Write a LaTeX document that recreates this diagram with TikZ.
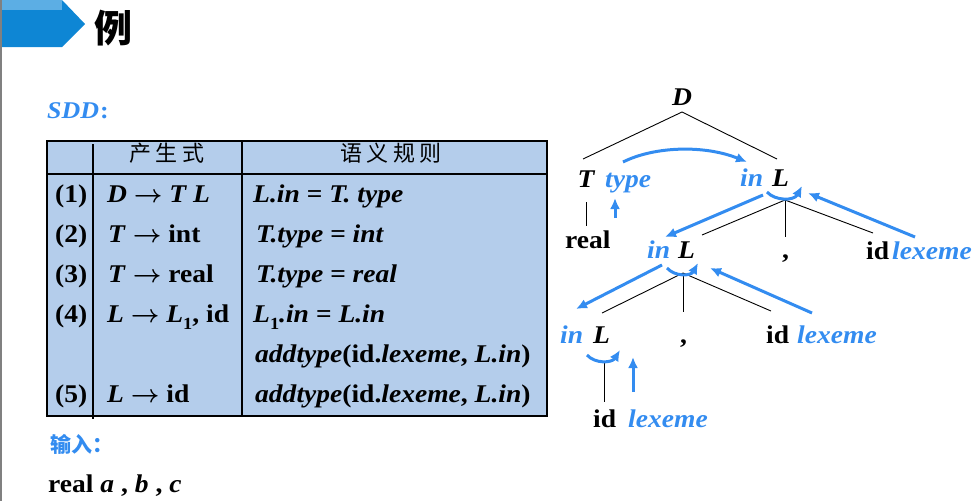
\documentclass[tikz,border=0pt]{standalone}
\usepackage{fontspec}
\setmainfont{Liberation Serif}[FakeStretch=1.08]
\newfontfamily\cjk{Noto Sans CJK SC}
\usetikzlibrary{arrows.meta}
\definecolor{bannerblue}{RGB}{14,134,212}
\definecolor{bannerlight}{RGB}{92,174,228}
\definecolor{accent}{RGB}{51,140,240}
\definecolor{tablefill}{RGB}{180,205,235}
\definecolor{edgegray}{RGB}{128,128,128}
\newcommand\fz{\fontsize{25.5}{30}\selectfont}
\newcommand\arr{\ensuremath{\boldsymbol{\rightarrow}}}
\usepackage{amsmath}
\begin{document}
\begin{tikzpicture}[x=1pt,y=-1pt,
  txt/.style={inner sep=0pt, anchor=base west, font=\fz\bfseries},
  ctxt/.style={inner sep=0pt, anchor=base, font=\fz\bfseries\itshape},
  btxt/.style={inner sep=0pt, anchor=base west, font=\fz\bfseries\itshape, text=accent},
  itxt/.style={inner sep=0pt, anchor=base west, font=\fz\bfseries\itshape},
  treeline/.style={draw=black, line width=0.9pt},
  flow/.style={draw=accent, line width=3pt, -{Latex[length=11pt,width=10pt]}},
  hdr/.style={inner sep=0pt, anchor=center, font=\cjk\fontsize{22}{24}\selectfont}
]
\useasboundingbox (0,0) rectangle (973,501);
% banner
\fill[edgegray] (0,0) rectangle (2,501);
\fill[bannerblue] (2,0) -- (62,0) -- (85,24) -- (62,47) -- (2,47) -- cycle;
\fill[bannerlight] (2,0) rectangle (62,10);
\node[inner sep=0pt, anchor=center, font=\cjk\bfseries\fontsize{38}{40}\selectfont] (title) at (113,28) {例};
% SDD label
\node[inner sep=0pt, anchor=base west, text=accent, font=\fontsize{24}{28}\selectfont\bfseries\itshape] (sdd) at (47,118) {SDD\hspace{1pt}{\upshape:}};
% table
\fill[tablefill] (47,141) rectangle (547,416);
\draw[line width=1.3pt] (47,141) rectangle (547,416);
\draw[line width=1.3pt] (47,174) -- (547,174);
\draw[line width=1.3pt] (93,144) -- (93,419);
\draw[line width=1.3pt] (242,141) -- (242,416);
\node[hdr] (h1) at (167,153) {产\hspace{5pt}生\hspace{5pt}式};
\node[hdr] (h2) at (391,153) {语\hspace{4.5pt}义\hspace{4.5pt}规\hspace{4.5pt}则};
% row numbers
\node[txt] (n1) at (55,202) {(1)};
\node[txt] (n2) at (55,242) {(2)};
\node[txt] (n3) at (55,282) {(3)};
\node[txt] (n4) at (55,322) {(4)};
\node[txt] (n5) at (55,402) {(5)};
% productions
\node[txt] (p1) at (107,202) {\textit{D} \arr\ \textit{T L}};
\node[txt] (p2) at (108,242) {\textit{T} \arr\ int};
\node[txt] (p3) at (108,282) {\textit{T} \arr\ real};
\node[txt] (p4) at (107,322) {\textit{L} \arr\ \textit{L}\raisebox{-0.28em}{\fontsize{17}{17}\selectfont 1}, id};
\node[txt] (p5) at (107,402) {\textit{L} \arr\ id};
% rules
\node[txt] (r1) at (253,202) {\textit{L.in = T. type}};
\node[txt] (r2) at (256,242) {\textit{T.type = int}};
\node[txt] (r3) at (256,282) {\textit{T.type = real}};
\node[txt] (r4) at (253,322) {\textit{L}\raisebox{-0.28em}{\fontsize{17}{17}\selectfont 1}\textit{.in = L.in}};
\node[txt] (r4b) at (255,362) {\textit{addtype}(id.\textit{lexeme}, \textit{L.in})};
\node[txt] (r5) at (255,402) {\textit{addtype}(id.\textit{lexeme}, \textit{L.in})};
% input
\node[inner sep=0pt, anchor=base west, text=accent, font=\cjk\bfseries\fontsize{21}{24}\selectfont] (inp) at (50,452) {输入：};
\node[txt] (inputline) at (48,492) {real \textit{a} , \textit{b} , \textit{c}};
% ---------------- tree ----------------
\node[ctxt] (D) at (682,105) {D};
\node[ctxt] (T) at (586,187) {T};
\node[btxt] (type) at (605,187) {type};
\node[btxt] (in1) at (740,186) {in};
\node[itxt] (L1) at (772,186) {L};
\node[txt] (real) at (565,248) {real};
\node[btxt] (in2) at (647,258) {in};
\node[itxt] (L2) at (678,258) {L};
\node[txt] (c2) at (782,258) {,};
\node[txt] (id2) at (866,259) {id};
\node[btxt] (lex2) at (892,259) {lexeme};
\node[btxt] (in3) at (560,343) {in};
\node[itxt] (L3) at (593,343) {L};
\node[txt] (c3) at (680,343) {,};
\node[txt] (id3) at (766,343) {id};
\node[btxt] (lex3) at (797,343) {lexeme};
\node[txt] (id4) at (593,427) {id};
\node[btxt] (lex4) at (628,427) {lexeme};
% tree coordinates
\coordinate (Dap) at (682,112);
\coordinate (Tt) at (583,159);
\coordinate (Lt) at (777,159);
\coordinate (Tb) at (586,202);
\coordinate (realt) at (586,226);
\coordinate (L1ap) at (785,200);
\coordinate (L2t) at (702,235);
\coordinate (c2t) at (785,237);
\coordinate (id2t) at (873,233);
\coordinate (L2ap) at (683,273);
\coordinate (L3t) at (602,313);
\coordinate (c3t) at (683,312);
\coordinate (id3t) at (771,311);
\coordinate (L3b) at (604,363);
\coordinate (id4t) at (604,402);
\draw[treeline] (Dap) -- (Tt);
\draw[treeline] (Dap) -- (Lt);
\draw[treeline] (Tb) -- (realt);
\draw[treeline] (L1ap) -- (L2t);
\draw[treeline] (L1ap) -- (c2t);
\draw[treeline] (L1ap) -- (id2t);
\draw[treeline] (L2ap) -- (L3t);
\draw[treeline] (L2ap) -- (c3t);
\draw[treeline] (L2ap) -- (id3t);
\draw[treeline] (L3b) -- (id4t);
% flow coordinates
\coordinate (typeS) at (623,162);
\coordinate (in1E) at (747,162);
\coordinate (realA) at (615,218);
\coordinate (typeB) at (615,198);
\coordinate (a1s) at (767,192);
\coordinate (a1e) at (802,186);
\coordinate (in1s) at (763,195);
\coordinate (in2e) at (665,237);
\coordinate (lex2s) at (915,237);
\coordinate (L1e) at (808,193);
\coordinate (a2s) at (667,268);
\coordinate (a2e) at (698,263);
\coordinate (in2s) at (662,265);
\coordinate (in3e) at (576,309);
\coordinate (lex3s) at (812,313);
\coordinate (L2e) at (710,268);
\coordinate (a3s) at (587,355);
\coordinate (a3e) at (620,350);
\coordinate (lex4s) at (633,392);
\coordinate (L3e) at (633,357);
\draw[flow] (typeS) .. controls (655,146) and (705,145) .. (in1E);
\draw[flow] (realA) -- (typeB);
\draw[flow] (a1s) .. controls (775,201) and (794,201) .. (a1e);
\draw[flow] (in1s) -- (in2e);
\draw[flow] (lex2s) -- (L1e);
\draw[flow] (a2s) .. controls (675,277) and (691,276) .. (a2e);
\draw[flow] (in2s) -- (in3e);
\draw[flow] (lex3s) -- (L2e);
\draw[flow] (a3s) .. controls (595,364) and (612,363) .. (a3e);
\draw[flow] (lex4s) -- (L3e);
\end{tikzpicture}
\end{document}
